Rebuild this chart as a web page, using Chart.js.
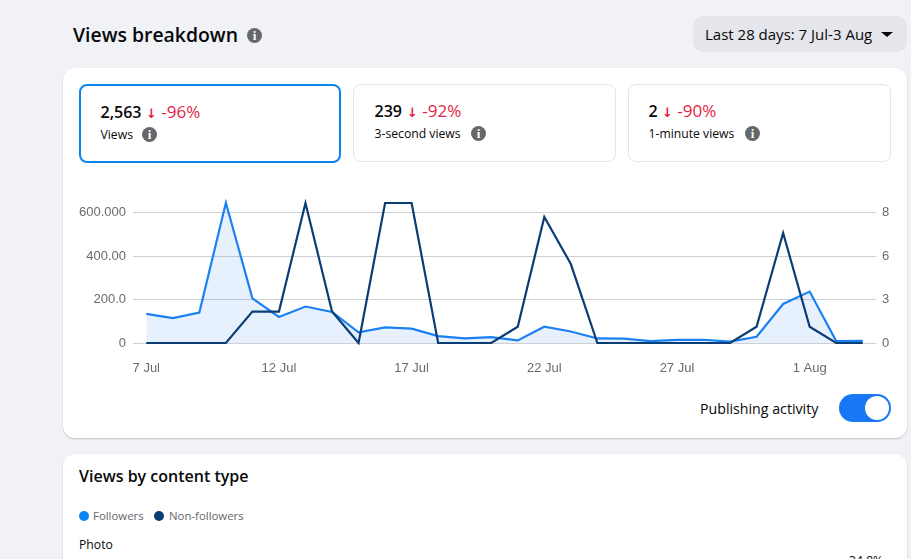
<!DOCTYPE html>
<html>
<head>
<meta charset="utf-8">
<title>Views breakdown</title>
<script src="https://cdn.jsdelivr.net/npm/chart.js@4"></script>
<style>
html, body { margin: 0; height: 100%; overflow: hidden; background: #f1f2f6; }
body { font-family: "Open Sans", "Noto Sans", sans-serif; color: #080809; }
.abs { position: absolute; white-space: nowrap; line-height: 1; }
.card { position: absolute; background: #fff; border-radius: 12px; box-shadow: 0 1px 2px rgba(0,0,0,.2); }
.tile { position: absolute; box-sizing: border-box; background: #fff; border: 1px solid #e4e6eb; border-radius: 8px; }
.tile.active { border: 2px solid #0a84f0; }
.info { position: absolute; width: 15px; height: 15px; border-radius: 50%; background: #65676b; color: #fff; font: bold 13px/15px "Liberation Serif", serif; text-align: center; }
.num { font-size: 16px; font-weight: 600; }
.down { font-size: 17px; color: #e41e3f; }
.down b { font-family: "DejaVu Sans", sans-serif; font-size: 13px; font-weight: 700; }
.sub { font-size: 12.2px; }
.legendText { font-size: 11.4px; color: #65676b; }
.dot { position: absolute; width: 10px; height: 10px; border-radius: 50%; }
#chartBox { position: absolute; left: 70px; top: 188px; width: 835px; height: 192px; }
</style>
</head>
<body>
<div class="abs" style="left:73px;top:25px;font-size:19.4px;font-weight:600">Views breakdown</div>
<div class="info" style="left:247px;top:28px">i</div>
<div class="abs" style="left:693px;top:16px;width:214px;height:36px;background:#e4e6eb;border-radius:10px"></div>
<div class="abs" style="left:705px;top:27px;font-size:15px;font-weight:500">Last 28 days: 7 Jul-3 Aug</div>
<div class="abs" style="left:881px;top:32px;border:6px solid transparent;border-top:5px solid #080809;border-bottom:0"></div>

<div class="card" style="left:63px;top:68px;width:844px;height:370px"></div>
<div class="tile active" style="left:79px;top:84px;width:262px;height:79px"></div>
<div class="tile" style="left:353px;top:84px;width:263px;height:78px"></div>
<div class="tile" style="left:628px;top:84px;width:263px;height:78px"></div>

<div class="abs num" style="left:100.5px;top:104px">2,563</div>
<div class="abs down" style="left:146px;top:103px"><b>↓</b> -96%</div>
<div class="abs sub" style="left:100.5px;top:129px">Views</div>
<div class="info" style="left:142px;top:127px">i</div>

<div class="abs num" style="left:374.5px;top:103px">239</div>
<div class="abs down" style="left:407px;top:102px"><b>↓</b> -92%</div>
<div class="abs sub" style="left:374.5px;top:128px">3-second views</div>
<div class="info" style="left:471px;top:126px">i</div>

<div class="abs num" style="left:648.5px;top:103px">2</div>
<div class="abs down" style="left:662px;top:102px"><b>↓</b> -90%</div>
<div class="abs sub" style="left:648.5px;top:128px">1-minute views</div>
<div class="info" style="left:745px;top:126px">i</div>

<div id="chartBox"><canvas id="viewsChart"></canvas></div>

<div class="abs" style="left:700px;top:402px;font-size:14.2px">Publishing activity</div>
<div class="abs" style="left:839px;top:394px;width:52px;height:28px;background:#1877f2;border-radius:14px"></div>
<div class="abs" style="left:865px;top:396px;width:24px;height:24px;background:#fff;border-radius:50%"></div>

<div class="card" style="left:63px;top:454px;width:844px;height:200px"></div>
<div class="abs" style="left:79px;top:468px;font-size:16px;font-weight:600">Views by content type</div>
<div class="dot" style="left:79px;top:511px;background:#0a84f0"></div>
<div class="abs legendText" style="left:93px;top:510px">Followers</div>
<div class="dot" style="left:154px;top:511px;background:#0a3d73"></div>
<div class="abs legendText" style="left:169px;top:510px">Non-followers</div>
<div class="abs sub" style="left:79px;top:539px">Photo</div>
<div class="abs sub" style="left:849px;top:555px">34.8%</div>

<script>
const dates = ['7 Jul','8 Jul','9 Jul','10 Jul','11 Jul','12 Jul','13 Jul','14 Jul','15 Jul','16 Jul',
    '17 Jul','18 Jul','19 Jul','20 Jul','21 Jul','22 Jul','23 Jul','24 Jul','25 Jul','26 Jul',
    '27 Jul','28 Jul','29 Jul','30 Jul','31 Jul','1 Aug','2 Aug','3 Aug'];
const followerViews = [134,115,140,646,206,120,168,143,49,72,66,32,21,27,12,75,53,21,20,9,14,15,6,29,180,237,9,10];
const nonFollowerViews = [0,0,0,0,1.93,1.93,8.6,1.93,0,8.6,8.6,0,0,0,1,7.74,4.85,0,0,0,0,0,0,1,6.76,1,0,0];
const leftTicks = [0,200,400,600];
const leftLabels = ['0','200.0','400.00','600.000'];
const rightTicks = [0,2.667,5.333,8];
const rightLabels = ['0','3','6','8'];

const tickFont = { family: '"Liberation Sans", Arial, sans-serif', size: 13 };
const tickColor = '#6b6b6f';
const gridColor = '#ced0d6';

function fixedTicks(values) {
    return (axis) => { axis.ticks = values.map(v => ({ value: v })); };
}

new Chart(document.getElementById('viewsChart'), {
    type: 'line',
    data: {
        labels: dates,
        datasets: [{
            label: 'Non-followers',
            data: nonFollowerViews,
            yAxisID: 'yRight',
            borderColor: '#0a3d73',
            borderWidth: 2.2,
            pointRadius: 0,
            tension: 0,
            clip: false,
            order: 1
        }, {
            label: 'Followers',
            data: followerViews,
            yAxisID: 'yLeft',
            borderColor: '#1b80f2',
            backgroundColor: 'rgba(24,119,242,0.1)',
            borderWidth: 2.2,
            pointRadius: 0,
            tension: 0,
            fill: 'origin',
            clip: false,
            order: 2
        }]
    },
    options: {
        responsive: true,
        maintainAspectRatio: false,
        animation: false,
        layout: { padding: { top: 9 } },
        plugins: { legend: { display: false }, title: { display: false }, tooltip: { enabled: false } },
        scales: {
            x: {
                offset: true,
                grid: { display: false },
                border: { display: false },
                afterFit: (axis) => { axis.height = 37; },
                ticks: {
                    autoSkip: false,
                    maxRotation: 0,
                    padding: 10,
                    font: tickFont,
                    color: tickColor,
                    callback: (value, index) => index % 5 === 0 ? dates[index] : ''
                }
            },
            yLeft: {
                position: 'left',
                min: 0,
                max: 646,
                afterBuildTicks: fixedTicks(leftTicks),
                afterFit: (axis) => { axis.width = 63; },
                grid: { color: gridColor, lineWidth: 1, drawTicks: false },
                border: { display: false },
                ticks: {
                    padding: 7,
                    font: tickFont,
                    color: tickColor,
                    callback: (value) => leftLabels[leftTicks.indexOf(value)]
                }
            },
            yRight: {
                position: 'right',
                min: 0,
                max: 8.613,
                afterBuildTicks: fixedTicks(rightTicks),
                afterFit: (axis) => { axis.width = 29; },
                grid: { display: false, drawTicks: false },
                border: { display: false },
                ticks: {
                    padding: 6,
                    font: tickFont,
                    color: tickColor,
                    callback: (value) => rightLabels[rightTicks.indexOf(value)]
                }
            }
        }
    }
});
</script>
</body>
</html>
